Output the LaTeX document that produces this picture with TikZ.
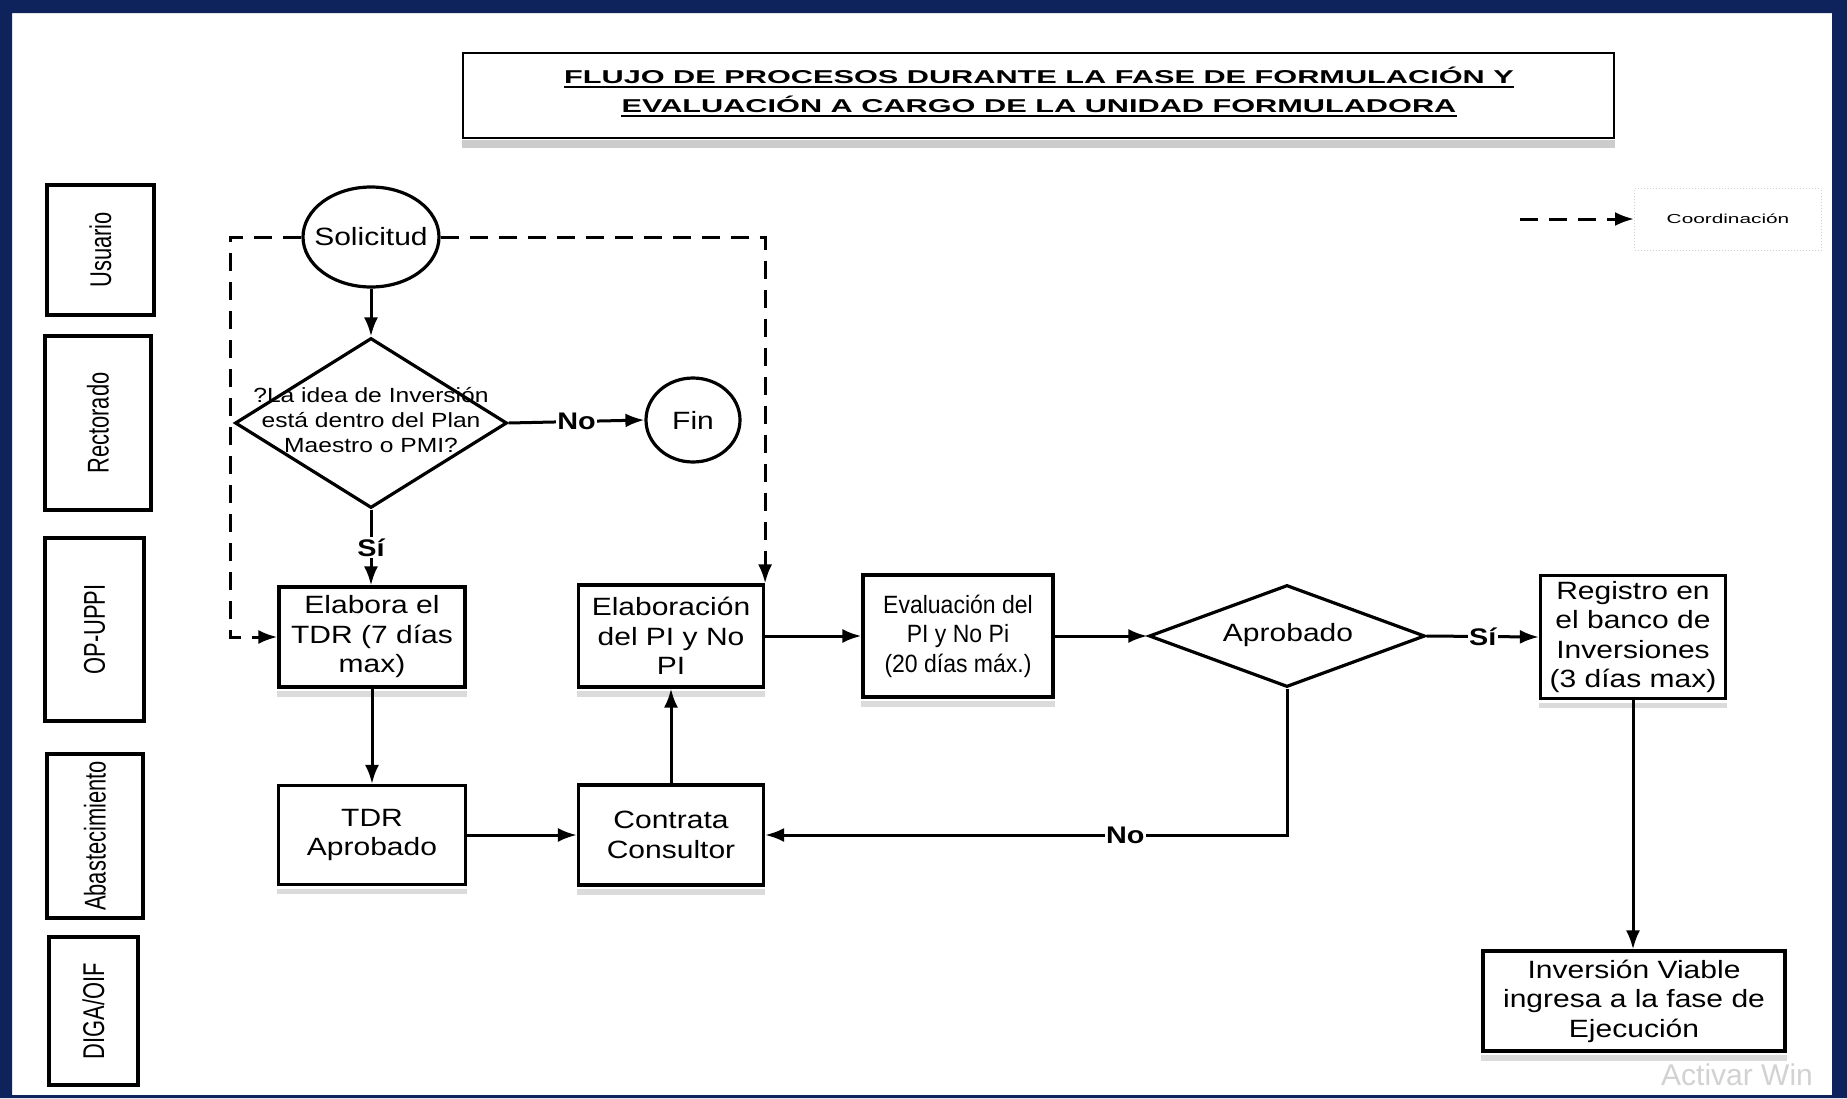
\documentclass[tikz,border=0pt]{standalone}
\usepackage{fontspec}
\setmainfont{Liberation Sans}
\newfontfamily\bodyf{Liberation Sans}[FakeStretch=1.2]
\newfontfamily\evalf{Liberation Sans}[FakeStretch=0.92]
\newfontfamily\titlef{Liberation Sans}[FakeStretch=1.65]
\newfontfamily\lanef{Liberation Sans}[FakeStretch=0.73]
\newfontfamily\legf{Liberation Sans}[FakeStretch=1.6]
\usetikzlibrary{shapes.geometric,arrows.meta,calc}
\definecolor{navy}{RGB}{14,35,92}
\begin{document}
\begin{tikzpicture}[x=1pt,y=-1pt,
  flow/.style={draw, line width=3.2pt, inner sep=0pt, align=center, font=\bodyf\fontsize{25}{29.5}\selectfont},
  lane/.style={draw, line width=3.5pt, rotate=90, inner sep=0pt, font=\lanef\fontsize{30}{36}\selectfont},
  decis/.style={draw, diamond, line width=3.2pt, inner sep=0pt},
  term/.style={draw, ellipse, line width=3.2pt, inner sep=0pt, font=\bodyf\fontsize{25}{29.5}\selectfont},
  arr/.style={line width=3pt, -{Latex[length=19pt,width=14pt]}},
  coordarr/.style={line width=3pt, dash pattern=on 18pt off 11pt, -{Latex[length=19pt,width=14pt]}},
  lbl/.style={fill=white, inner sep=1.5pt, font=\bodyf\bfseries\fontsize{24}{28}\selectfont},
  shade/.style={fill=gray!28}
]
\useasboundingbox (0,0) rectangle (1847,1098);
\fill[white] (0,0) rectangle (1847,1098);

% title
\node[draw, line width=2pt, minimum width=1151pt, minimum height=85pt, inner sep=0pt] (tbox) at (1038.5,95.5) {};
\fill[gray!40] ($(tbox.south west)+(0,1)$) rectangle ($(tbox.south east)+(0,9)$);
\node[anchor=base, inner sep=0pt, font=\titlef\bfseries\fontsize{18.6}{29}\selectfont] (t1) at (1039,83) {FLUJO DE PROCESOS DURANTE LA FASE DE FORMULACIÓN Y};
\node[anchor=base, inner sep=0pt, font=\titlef\bfseries\fontsize{18.6}{29}\selectfont] (t2) at (1039,112) {EVALUACIÓN A CARGO DE LA UNIDAD FORMULADORA};
\draw[line width=2.2pt] ($(t1.base west)+(0,4)$) -- ($(t1.base east)+(0,4)$);
\draw[line width=2.2pt] ($(t2.base west)+(0,4)$) -- ($(t2.base east)+(0,4)$);

% lanes
\node[lane, minimum width=130pt, minimum height=107pt] (usu) at (100.5,250) {Usuario};
\node[lane, minimum width=174pt, minimum height=106pt] (rec) at (98,423) {Rectorado};
\node[lane, minimum width=183pt, minimum height=99pt] (opu) at (94.5,629.5) {OP-UPPI};
\node[lane, minimum width=164pt, minimum height=96pt] (aba) at (95,836) {Abastecimiento};
\node[lane, minimum width=148pt, minimum height=89pt] (dig) at (93.5,1011) {DIGA/OIF};

% legend
\node[draw=black!18, line width=1pt, dotted, minimum width=187pt, minimum height=62pt, inner sep=0pt, font=\legf\fontsize{13}{16}\selectfont] (leg) at (1728,219) {Coordinación};
\coordinate (legs) at (1520,219);
\draw[coordarr] (legs) -- (leg.west);

% flow nodes
\node[term, minimum width=136pt, minimum height=100pt] (sol) at (371,237) {\makebox[0pt]{Solicitud}};
\node[decis, minimum width=272pt, minimum height=170pt] (d1) at (371,423) {};
\node[inner sep=0pt, align=center, font=\bodyf\fontsize{20.5}{25}\selectfont] (d1t) at (371,420) {?La idea de Inversión\\está dentro del Plan\\Maestro o PMI?};
\node[term, minimum width=94pt, minimum height=84pt] (fin) at (693,420) {\makebox[0pt]{Fin}};

\node[flow, minimum width=186pt, minimum height=100pt] (elab) at (372,637) {Elabora el\\TDR (7 días\\max)};
\node[flow, minimum width=185pt, minimum height=102pt] (pi) at (671,636) {Elaboración\\del PI y No\\PI};
\node[flow, minimum width=190pt, minimum height=122pt, font=\evalf\fontsize{25}{29.5}\selectfont] (eval) at (958,636) {Evaluación del\\PI y No Pi\\(20 días máx.)};
\node[decis, minimum width=276pt, minimum height=102pt] (apr) at (1287,636) {};
\node[inner sep=0pt, font=\bodyf\fontsize{25}{29.5}\selectfont] (aprt) at (1288,635) {Aprobado};
\node[flow, minimum width=185pt, minimum height=123pt] (reg) at (1633,637) {Registro en\\el banco de\\Inversiones\\(3 días max)};
\node[flow, minimum width=302pt, minimum height=100pt] (inv) at (1634,1001) {Inversión Viable\\ingresa a la fase de\\Ejecución};
\node[flow, minimum width=187pt, minimum height=99pt] (tdr) at (372,835) {TDR\\Aprobado};
\node[flow, minimum width=185pt, minimum height=100pt] (cont) at (671,835) {Contrata\\Consultor};

\foreach \n in {elab,pi,eval,reg,inv,tdr,cont}{
  \fill[shade] ($(\n.south west)+(0,2.5)$) rectangle ($(\n.south east)+(0,8)$);
}

% connectors
\draw[arr] (sol.south) -- (d1.north);
\draw[arr] (d1.east) -- node[lbl]{No} (fin.west);
\draw[arr] (d1.south) -- node[lbl]{Sí} (d1.south |- elab.north);
\draw[arr] (elab.south) -- (tdr.north);
\draw[arr] (tdr.east) -- (cont.west);
\draw[arr] (cont.north) -- (pi.south);
\draw[arr] (pi.east) -- (eval.west);
\draw[arr] (eval.east) -- (apr.west);
\draw[arr] (apr.east) -- node[lbl]{Sí} (reg.west);
\draw[arr] (reg.south) -- (reg.south |- inv.north);
\draw[arr] (apr.south) |- node[lbl, pos=0.655]{No} (cont.east);

% coordination (dashed)
\draw[coordarr] (sol.west) -- ++(-71,0) |- (elab.west);
\draw[coordarr] (sol.east) -| (pi.north east);

% watermark (visible part)
\node[anchor=base west, inner sep=0pt, text=gray!35, font=\fontsize{30}{36}\selectfont] (wm) at (1661,1085) {Activar Win};

% frame
\fill[navy, even odd rule] (0,0) rectangle (1847,1098) (12,13) rectangle (1832,1095);
\end{tikzpicture}
\end{document}
